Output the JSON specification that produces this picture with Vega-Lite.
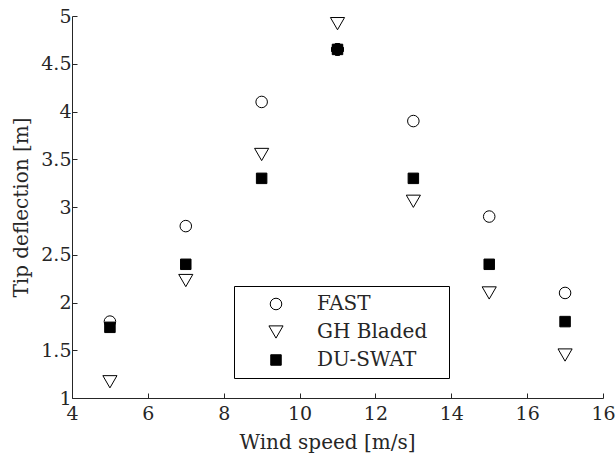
{
  "$schema": "https://vega.github.io/schema/vega-lite/v6.json",
  "autosize": "none",
  "width": 531,
  "height": 382,
  "padding": {"left": 72, "top": 16, "right": 13, "bottom": 57},
  "background": "white",
  "config": {
    "view": {"stroke": null},
    "font": "DejaVu Serif",
    "axis": {
      "grid": false,
      "domainColor": "#262626",
      "tickColor": "#262626",
      "labelColor": "#262626",
      "titleColor": "#262626",
      "labelFont": "DejaVu Serif",
      "titleFont": "DejaVu Serif",
      "labelFontSize": 19,
      "titleFontSize": 20,
      "titleFontWeight": "normal",
      "tickSize": -5,
      "domainWidth": 1,
      "tickWidth": 1
    }
  },
  "data": {
    "values": [
      {"speed": 5, "deflection": 1.80, "code": "FAST"},
      {"speed": 7, "deflection": 2.80, "code": "FAST"},
      {"speed": 9, "deflection": 4.10, "code": "FAST"},
      {"speed": 11, "deflection": 4.65, "code": "FAST"},
      {"speed": 13, "deflection": 3.90, "code": "FAST"},
      {"speed": 15, "deflection": 2.90, "code": "FAST"},
      {"speed": 17, "deflection": 2.10, "code": "FAST"},
      {"speed": 5, "deflection": 1.17, "code": "GH Bladed"},
      {"speed": 7, "deflection": 2.23, "code": "GH Bladed"},
      {"speed": 9, "deflection": 3.55, "code": "GH Bladed"},
      {"speed": 11, "deflection": 4.92, "code": "GH Bladed"},
      {"speed": 13, "deflection": 3.06, "code": "GH Bladed"},
      {"speed": 15, "deflection": 2.10, "code": "GH Bladed"},
      {"speed": 17, "deflection": 1.45, "code": "GH Bladed"},
      {"speed": 5, "deflection": 1.74, "code": "DU-SWAT"},
      {"speed": 7, "deflection": 2.40, "code": "DU-SWAT"},
      {"speed": 9, "deflection": 3.30, "code": "DU-SWAT"},
      {"speed": 11, "deflection": 4.65, "code": "DU-SWAT"},
      {"speed": 13, "deflection": 3.30, "code": "DU-SWAT"},
      {"speed": 15, "deflection": 2.40, "code": "DU-SWAT"},
      {"speed": 17, "deflection": 1.80, "code": "DU-SWAT"}
    ]
  },
  "layer": [
    {
      "mark": {"type": "point", "filled": true, "stroke": "black", "strokeWidth": 1, "opacity": 1},
      "encoding": {
        "x": {
          "field": "speed", "type": "quantitative",
          "scale": {"domain": [4, 18], "nice": false, "zero": false},
          "axis": {
            "values": [4, 6, 8, 10, 12, 14, 16, 18],
            "labelExpr": "datum.value == 18 ? '16' : datum.label",
            "labelPadding": 11,
            "title": "Wind speed [m/s]",
            "titleX": 255,
            "titleY": 50,
            "titleBaseline": "alphabetic",
            "titleAlign": "center",
            "titleAnchor": null,
            "labelFlush": false
          }
        },
        "y": {
          "field": "deflection", "type": "quantitative",
          "scale": {"domain": [1, 5], "nice": false, "zero": false},
          "axis": {
            "values": [1, 1.5, 2, 2.5, 3, 3.5, 4, 4.5, 5],
            "format": ".1~f",
            "labelPadding": 6,
            "title": "Tip deflection [m]",
            "titleX": -45,
            "titleY": 191,
            "titleAngle": 270,
            "titleBaseline": "alphabetic",
            "titleAlign": "center",
            "titleAnchor": null
          }
        },
        "shape": {
          "field": "code", "type": "nominal",
          "scale": {"domain": ["FAST", "GH Bladed", "DU-SWAT"], "range": ["circle", "triangle-down", "square"]},
          "legend": {
            "title": "\u00a0",
            "titleOrient": "right",
            "titleFontSize": 1,
            "titlePadding": 14,
            "orient": "none",
            "legendX": 162,
            "legendY": 270,
            "padding": 8,
            "symbolOffset": 24,
            "labelOffset": 31,
            "rowPadding": 8,
            "strokeColor": "black",
            "fillColor": "white",
            "labelFont": "DejaVu Serif",
            "labelFontSize": 20,
            "labelColor": "#262626",
            "symbolStrokeColor": "black",
            "symbolStrokeWidth": 1
          }
        },
        "fill": {
          "field": "code", "type": "nominal",
          "scale": {"domain": ["FAST", "GH Bladed", "DU-SWAT"], "range": ["transparent", "transparent", "black"]},
          "legend": {"title": "\u00a0"}
        },
        "size": {
          "field": "code", "type": "nominal",
          "scale": {"type": "ordinal", "domain": ["FAST", "GH Bladed", "DU-SWAT"], "range": [133, 200, 110]},
          "legend": {"title": "\u00a0"}
        }
      }
    },
    {
      "transform": [
        {"joinaggregate": [{"op": "count", "as": "n"}], "groupby": ["speed", "deflection"]},
        {"filter": "datum.n > 1"}
      ],
      "mark": {"type": "point", "shape": "circle", "filled": true, "fill": "black", "stroke": "black", "strokeWidth": 1, "size": 140, "opacity": 1},
      "encoding": {
        "x": {"field": "speed", "type": "quantitative"},
        "y": {"field": "deflection", "type": "quantitative"}
      }
    }
  ]
}
